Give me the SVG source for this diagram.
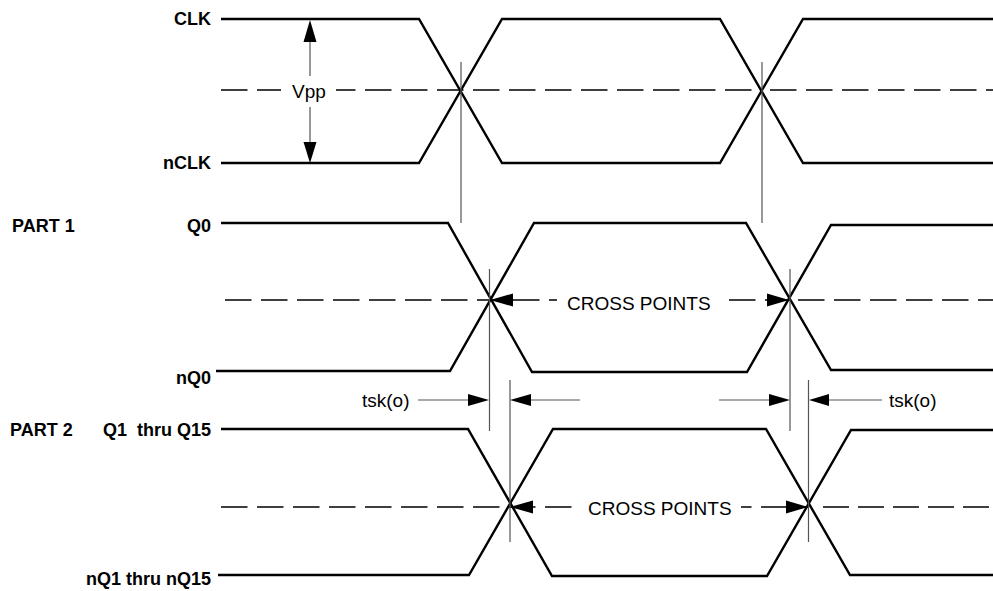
<svg xmlns="http://www.w3.org/2000/svg" width="993" height="591" viewBox="0 0 993 591">
<style>
.sig{fill:none;stroke:#000;stroke-width:2.4;stroke-linejoin:miter}
.mid{fill:none;stroke:#000;stroke-width:1.4;stroke-dasharray:26.5 9.5}
.ref{fill:none;stroke:#555;stroke-width:1.2}
.ah{fill:#000}
.lb{font-family:"Liberation Sans",Arial,sans-serif;font-weight:bold;font-size:18px;fill:#000}
.tx{font-family:"Liberation Sans",Arial,sans-serif;font-size:19px;fill:#000}
</style>
<rect width="993" height="591" fill="#fff"/>

<g id="midlines">
<path class="mid" d="M221 90 H761"/>
<path class="mid" d="M770 90 H993"/>
<path class="mid" d="M225 300 H790"/>
<path class="mid" d="M798 300 H993"/>
<path class="mid" d="M221 507 H808"/>
<path class="mid" style="stroke-dasharray:26 9" d="M823 507 H993"/>
<rect x="281" y="80" width="55" height="20" fill="#fff"/>
<rect x="557" y="290" width="170" height="22" fill="#fff"/>
<rect x="574" y="497" width="167" height="22" fill="#fff"/>
</g>

<g id="clk-signal">
<path class="sig" d="M221 19 H419 L502 163 H720 L803 19 H993"/>
<path class="sig" d="M221 163 H419 L502 19 H720 L803 163 H993"/>
</g>

<g id="part1-signal">
<path class="sig" d="M221 223 H448 L532 372 H747 L831 225 H993"/>
<path class="sig" d="M216 371 H450 L534 223 H746 L831 370 H993"/>
</g>

<g id="part2-signal">
<path class="sig" d="M221 429 H468 L552 576 H767 L851 430 H993"/>
<path class="sig" d="M218 575 H469 L553 429 H766 L850 575 H993"/>
</g>

<g id="connectors">
<path class="ref" d="M461 62 V223 M762 62 V223"/>
<path class="ref" d="M489.5 269 V431 M790 269 V431"/>
<path class="ref" d="M510 380 V542 M808.5 380 V542"/>
<path class="ref" d="M310 40 V76 M310 107 V144"/>
<polygon class="ah" points="310,20 303.5,42 316.5,42"/>
<polygon class="ah" points="310,163 303.5,142 316.5,142"/>
<path class="ref" d="M418 400 H470 M529 400 H580 M719 400 H771 M827 400 H882"/>
<polygon class="ah" points="489,400 468,394 468,406"/>
<polygon class="ah" points="510,400 531,394 531,406"/>
<polygon class="ah" points="790,400 769,394 769,406"/>
<polygon class="ah" points="809,400 829,394 829,406"/>
<polygon class="ah" points="490,300 513,293.5 513,306.5"/>
<polygon class="ah" points="789,300 767,293.5 767,306.5"/>
<polygon class="ah" points="510,507 533,500.5 533,513.5"/>
<polygon class="ah" points="808,507 786,500.5 786,513.5"/>
</g>

<g id="labels">
<text class="lb" x="211" y="25" text-anchor="end">CLK</text>
<text class="lb" x="211" y="169" text-anchor="end">nCLK</text>
<text class="lb" x="12" y="232">PART 1</text>
<text class="lb" x="211" y="232" text-anchor="end">Q0</text>
<text class="lb" x="211" y="384" text-anchor="end">nQ0</text>
<text class="lb" x="10" y="436">PART 2</text>
<text class="lb" x="211" y="436" text-anchor="end" xml:space="preserve">Q1  thru Q15</text>
<text class="lb" x="211" y="585" text-anchor="end">nQ1 thru nQ15</text>
<text class="tx" x="292" y="97.5">Vpp</text>
<text class="tx" x="567" y="310">CROSS POINTS</text>
<text class="tx" x="588" y="515">CROSS POINTS</text>
<text class="tx" x="362" y="407">tsk(o)</text>
<text class="tx" x="889" y="407">tsk(o)</text>
</g>
</svg>
